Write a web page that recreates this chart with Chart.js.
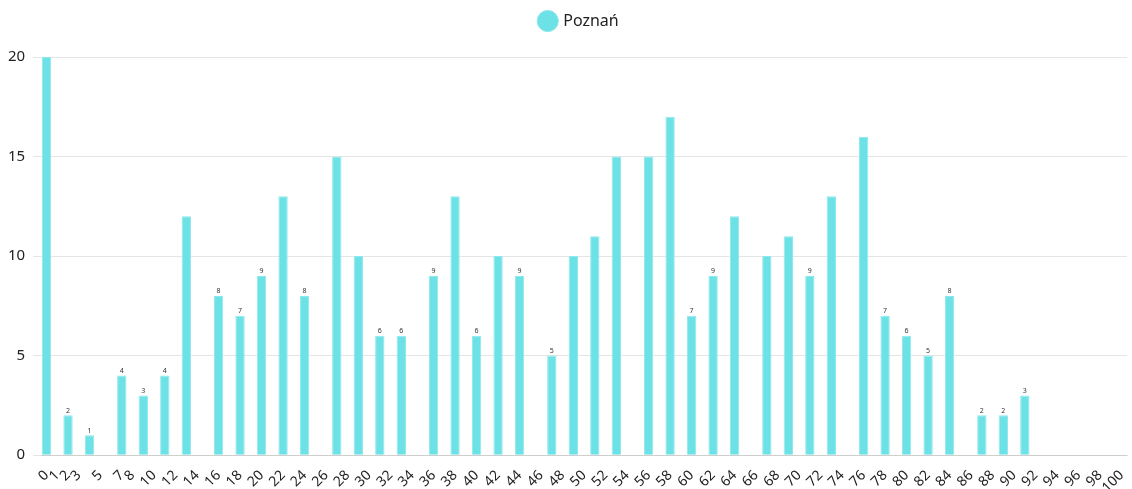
<!DOCTYPE html>
<html>
<head>
<meta charset="utf-8">
<script src="https://cdn.jsdelivr.net/npm/chart.js@4/dist/chart.umd.min.js"></script>
<style>
  html, body { margin: 0; padding: 0; background: #fff; }
  #wrap { width: 1132px; height: 489px; }
</style>
</head>
<body>
<div id="wrap"><canvas id="chart"></canvas></div>
<script>
const seriesLabel = 'Poznań';

// categories 0..100
const categories = Array.from({ length: 101 }, (_, i) => String(i));

const values = [
  20, null, 2, null, 1, null, null, 4, null, 3,
  null, 4, null, 12, null, null, 8, null, 7, null,
  9, null, 13, null, 8, null, null, 15, null, 10,
  null, 6, null, 6, null, null, 9, null, 13, null,
  6, null, 10, null, 9, null, null, 5, null, 10,
  null, 11, null, 15, null, null, 15, null, 17, null,
  7, null, 9, null, 12, null, null, 10, null, 11,
  null, 9, null, 13, null, null, 16, null, 7, null,
  6, null, 5, null, 8, null, null, 2, null, 2,
  null, 3, null, null, null, null, null, null, null, null,
  null
];

const shownTicks = [
  '0', '1', '2', '3', '5', '7', '8', '10', '12', '14', '16', '18', '20',
  '22', '24', '26', '28', '30', '32', '34', '36', '38', '40', '42', '44',
  '46', '48', '50', '52', '54', '56', '58', '60', '62', '64', '66', '68',
  '70', '72', '74', '76', '78', '80', '82', '84', '86', '88', '90', '92',
  '94', '96', '98', '100'
];

const barColor = '#6ce1e6';
const fontFamily = '"Noto Sans", sans-serif';

// small value labels over the lower bars
const valueLabels = {
  id: 'valueLabels',
  afterDatasetsDraw(chart) {
    const { ctx } = chart;
    const meta = chart.getDatasetMeta(0);
    ctx.save();
    ctx.font = '7px ' + fontFamily;
    ctx.fillStyle = '#333';
    ctx.textAlign = 'center';
    ctx.textBaseline = 'bottom';
    meta.data.forEach((bar, i) => {
      const v = values[i];
      if (v === null || v >= 10) return;
      ctx.fillText(String(v), bar.x, bar.y - 1);
    });
    ctx.restore();
  }
};

// extra space under the legend, and nudge it right a bit
const legendTweak = {
  id: 'legendTweak',
  beforeInit(chart) {
    const legend = chart.legend;
    const fit = legend.fit;
    legend.fit = function () {
      fit.bind(legend)();
      this.height += 18;
    };
    const draw = legend.draw;
    legend.draw = function () {
      const ctx = chart.ctx;
      ctx.save();
      ctx.translate(16, 0);
      draw.apply(legend, arguments);
      ctx.restore();
    };
  }
};

new Chart(document.getElementById('chart'), {
  type: 'bar',
  data: {
    labels: categories,
    datasets: [{
      label: seriesLabel,
      data: values,
      backgroundColor: barColor,
      borderColor: '#8ee9ed',
      borderWidth: 1,
      barPercentage: 0.87,
      categoryPercentage: 1
    }]
  },
  options: {
    responsive: true,
    maintainAspectRatio: false,
    animation: false,
    layout: { padding: { left: 0, right: 5, top: 1, bottom: -11 } },
    plugins: {
      legend: {
        position: 'top',
        labels: {
          usePointStyle: true,
          pointStyle: 'circle',
          boxWidth: 15,
          boxHeight: 15,
          color: '#222',
          font: { family: fontFamily, size: 16 },
          padding: 12
        }
      },
      tooltip: { enabled: false }
    },
    scales: {
      x: {
        grid: { display: false },
        border: { display: true, color: 'rgba(0,0,0,0.1)' },
        afterFit(scale) {
          scale.paddingRight = 0;
        },
        ticks: {
          autoSkip: false,
          minRotation: 45,
          maxRotation: 45,
          padding: 4,
          color: '#222',
          font: { family: fontFamily, size: 14 },
          callback: function (value) {
            const label = categories[value];
            return shownTicks.includes(label) ? label : '';
          }
        }
      },
      y: {
        min: 0,
        max: 20,
        border: { display: false },
        grid: { color: 'rgba(0,0,0,0.1)' },
        ticks: {
          stepSize: 5,
          color: '#222',
          padding: 8,
          font: { family: fontFamily, size: 15 }
        }
      }
    }
  },
  plugins: [valueLabels, legendTweak]
});
</script>
</body>
</html>
